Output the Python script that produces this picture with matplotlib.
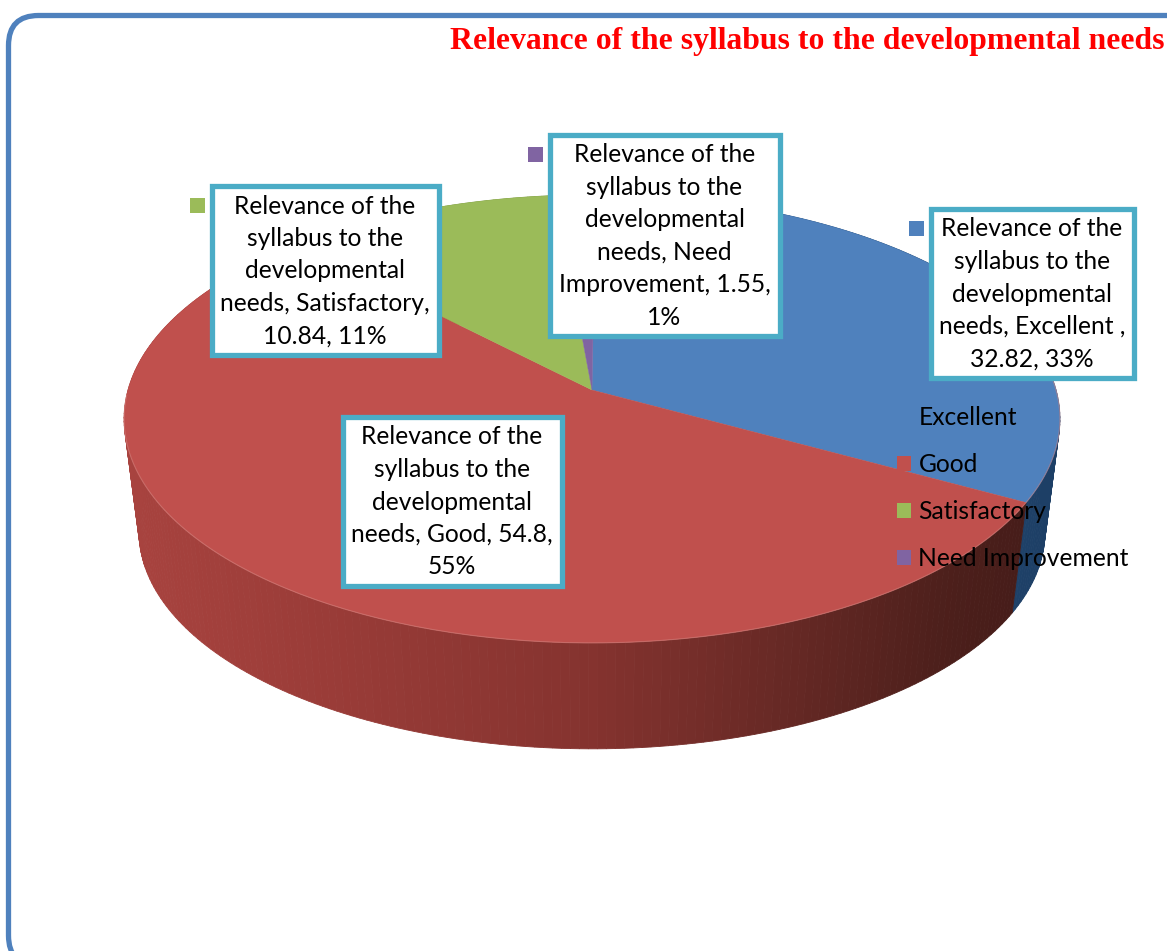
import numpy as np
import matplotlib
matplotlib.use('Agg')
import matplotlib.pyplot as plt
from matplotlib.patches import Rectangle, FancyBboxPatch, Patch

title = 'Relevance of the syllabus to the developmental needs'
categories = ['Excellent', 'Good', 'Satisfactory', 'Need Improvement']
values = [32.82, 54.8, 10.84, 1.55]
label_texts = [
    'Relevance of the\nsyllabus to the\ndevelopmental\nneeds, Excellent ,\n32.82, 33%',
    'Relevance of the\nsyllabus to the\ndevelopmental\nneeds, Good, 54.8,\n55%',
    'Relevance of the\nsyllabus to the\ndevelopmental\nneeds, Satisfactory,\n10.84, 11%',
    'Relevance of the\nsyllabus to the\ndevelopmental\nneeds, Need\nImprovement, 1.55,\n1%',
]
colors = ['#4F81BD', '#C0504D', '#9BBB59', '#8064A2']

# x, y, w, h of the label boxes, in pixels
label_boxes = [(930.5, 208.5, 203, 169), (342.5, 416.5, 219, 169),
               (211.5, 185.5, 227, 169), (549.5, 134.5, 230, 201)]
key_pos = [(909, 221), (None, None), (190, 198), (528, 147)]

start_deg = 0.5
cx, cy = 592, 390
persp = 0.129


def rim(theta, scale=1.0, dy=0.0):
    # perspective projection of a circle, theta clockwise from the top
    u = np.sin(theta)
    v = -np.cos(theta)
    w = 1 - persp * v
    return cx + scale * 464 * u / w, cy + dy + scale * 220.3 * v / w


def shade(x, xs, hexes):
    rgb = np.array([matplotlib.colors.to_rgb(h) for h in hexes])
    return tuple(np.interp(x, xs, rgb[:, i]) for i in range(3))


fig = plt.figure(figsize=(11.67, 9.51), dpi=100)
ax = fig.add_axes([0, 0, 1, 1])
ax.set_xlim(0, 1167)
ax.set_ylim(951, 0)
ax.axis('off')

# outer frame, runs off the right and bottom of the picture
ax.add_patch(FancyBboxPatch((8.5, 15.5), 1250, 950, boxstyle='round,pad=0,rounding_size=30',
                            fc='white', ec='#4F81BD', lw=3.8, zorder=0))

fracs = np.array(values) / np.sum(values)
edges = np.radians(start_deg) + 2 * np.pi * np.concatenate([[0], np.cumsum(fracs)])

# side wall, banded shading
wall_x = [130, 300, 590, 800, 950, 1040]
wall_cols = {
    0: ['#2F5A8C', '#2F5A8C', '#2F5A8C', '#2C5482', '#24486F', '#1D3F66'],
    1: ['#A8433F', '#9C3D39', '#85332F', '#642824', '#4C1F1B', '#451C19'],
    2: ['#7F9A48'] * 6,
    3: ['#66508A'] * 6,
}
for i in range(4):
    th = np.linspace(edges[i], edges[i + 1], int(fracs[i] * 360) + 2)
    for a, b in zip(th[:-1], th[1:]):
        x0, y0 = rim(np.array([a, b]))
        x1, y1 = rim(np.array([b, a]), 0.968, 114)
        c = shade((x0.mean() + x1.mean()) / 2, wall_x, wall_cols[i])
        ax.fill(np.r_[x0, x1], np.r_[y0, y1], color=c, lw=0.6, zorder=1)

# top face
for i in range(4):
    th = np.linspace(edges[i], edges[i + 1], 200)
    x, y = rim(th)
    ax.fill(np.r_[cx, x], np.r_[cy, y], color=colors[i], lw=0.3, zorder=2)
x, y = rim(np.linspace(edges[0] + np.radians(60), edges[1] + np.radians(150), 200))
ax.plot(x, y, color='#D98A86', lw=0.8, alpha=0.5, zorder=3)

# data labels
for i in range(4):
    bx, by, bw, bh = label_boxes[i]
    ax.add_patch(Rectangle((bx, by), bw, bh, fc='white', ec='#4BACC6', lw=3.8, zorder=5))
    ax.text(bx + bw / 2, by + bh / 2 + 1, label_texts[i], ha='center', va='center', family='Lato',
            fontsize=17.7, linespacing=1.5, color='black', zorder=6)
    if key_pos[i][0] is not None:
        ax.add_patch(Rectangle(key_pos[i], 15, 15, fc=colors[i], ec='none', zorder=4))

ax.text(1165, 41, title, ha='right', va='center', family='Liberation Serif', weight='bold',
        fontsize=22.9, color='#FF0000', zorder=6)

handles = [Patch(fc=c, ec='none') for c in colors]
ax.legend(handles, categories, loc='upper left', bbox_to_anchor=(897 / 1167, 1 - 406 / 951),
          frameon=False, prop={'family': 'Lato', 'size': 17.7}, labelspacing=0.98,
          handlelength=0.58, handleheight=0.58, handletextpad=0.29, borderpad=0, borderaxespad=0)

fig.savefig('out.png', dpi=100)
